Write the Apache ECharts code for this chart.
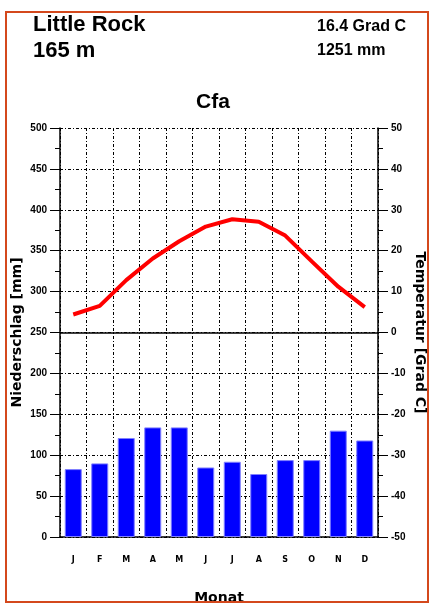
<!DOCTYPE html>
<html>
<head>
<meta charset="utf-8">
<script src="https://cdn.jsdelivr.net/npm/echarts@6/dist/echarts.min.js"></script>
<style>
html,body{margin:0;padding:0;background:#fff;}
#c{width:433px;height:605px;}
</style>
</head>
<body>
<div id="c"></div>
<script>
var months = ['J','F','M','A','M','J','J','A','S','O','N','D'];
var precipitation = [83, 90, 121, 134, 134, 85, 92, 77, 94, 94, 130, 118];
var temperature = [4.4, 6.5, 12.8, 18.1, 22.3, 25.9, 27.7, 27.1, 23.7, 17.4, 11.2, 6.2];
var precipTicks = [0, 500, 50];
var tempTicks = [-50, 50, 10];

var chart = echarts.init(document.getElementById('c'), null, {renderer:'canvas'});
var dash = [3, 2, 1, 2];
var txt = {fill:'#000', fontFamily:'Liberation Sans, Arial, sans-serif', fontWeight:'bold', verticalAlign:'middle'};
chart.setOption({
  animation:false,
  backgroundColor:'#fff',
  grid:{left:60, right:55, top:128, bottom:68, containLabel:false, outerBoundsMode:'none'},
  xAxis:{
    type:'category', data:months, boundaryGap:true,
    axisLine:{show:true, lineStyle:{color:'#000', width:1.5}},
    axisTick:{show:false},
    axisLabel:{margin:19, fontSize:8, color:'#000', fontFamily:'DejaVu Sans', fontWeight:'bold'},
    splitLine:{show:true, lineStyle:{color:'#000', type:dash, width:1}},
    name:'Monat', nameLocation:'middle', nameGap:54, nameMoveOverlap:false,
    nameTextStyle:{fontSize:14, color:'#000', fontFamily:'DejaVu Sans', fontWeight:'bold'}
  },
  yAxis:[{
    type:'value', min:precipTicks[0], max:precipTicks[1], interval:precipTicks[2], position:'left',
    axisLine:{show:true, lineStyle:{color:'#000', width:1.5}},
    axisTick:{show:true, length:10, lineStyle:{color:'#000'}},
    minorTick:{show:true, splitNumber:2, length:5, lineStyle:{color:'#000'}},
    axisLabel:{margin:13, fontSize:10, color:'#000', fontFamily:'Liberation Sans', fontWeight:'bold'},
    splitLine:{show:true, lineStyle:{color:'#000', type:dash, width:1}},
    name:'Niederschlag [mm]', nameLocation:'middle', nameGap:36, nameMoveOverlap:false,
    nameTextStyle:{fontSize:14, color:'#000', fontFamily:'DejaVu Sans', fontWeight:'bold'}
  },{
    type:'value', min:tempTicks[0], max:tempTicks[1], interval:tempTicks[2], position:'right',
    axisLine:{show:true, lineStyle:{color:'#000', width:1.5}},
    axisTick:{show:true, length:10, lineStyle:{color:'#000'}},
    minorTick:{show:true, splitNumber:2, length:5, lineStyle:{color:'#000'}},
    axisLabel:{margin:13, fontSize:10, color:'#000', fontFamily:'Liberation Sans', fontWeight:'bold'},
    splitLine:{show:false},
    name:'Temperatur [Grad C]', nameLocation:'middle', nameGap:35, nameRotate:-90, nameMoveOverlap:false,
    nameTextStyle:{fontSize:14, color:'#000', fontFamily:'DejaVu Sans', fontWeight:'bold'}
  }],
  series:[{
    type:'bar', yAxisIndex:0, data:precipitation, barWidth:17,
    itemStyle:{color:'#0000ff', borderColor:'#8080ff', borderWidth:1},
    markLine:{silent:true, symbol:'none', label:{show:false},
      lineStyle:{color:'#000', type:'solid', width:1.5},
      data:[{yAxis:250}]}
  },{
    type:'line', yAxisIndex:1, data:temperature, showSymbol:false, smooth:false,
    lineStyle:{color:'#ff0000', width:4}, z:5
  }],
  graphic:[
    {type:'text', x:33, y:25, style:Object.assign({text:'Little Rock', fontSize:22}, txt)},
    {type:'text', x:33, y:51, style:Object.assign({text:'165 m', fontSize:22}, txt)},
    {type:'text', x:317, y:27, style:Object.assign({text:'16.4 Grad C', fontSize:16}, txt)},
    {type:'text', x:317, y:51, style:Object.assign({text:'1251 mm', fontSize:16}, txt)},
    {type:'text', x:213, y:102, style:Object.assign({text:'Cfa', fontSize:21, align:'center'}, txt)},
    {type:'rect', x:6, y:12, z:100, shape:{x:0, y:0, width:422, height:590},
      style:{fill:'none', stroke:'#d4481c', lineWidth:2}}
  ]
});
</script>
</body>
</html>
